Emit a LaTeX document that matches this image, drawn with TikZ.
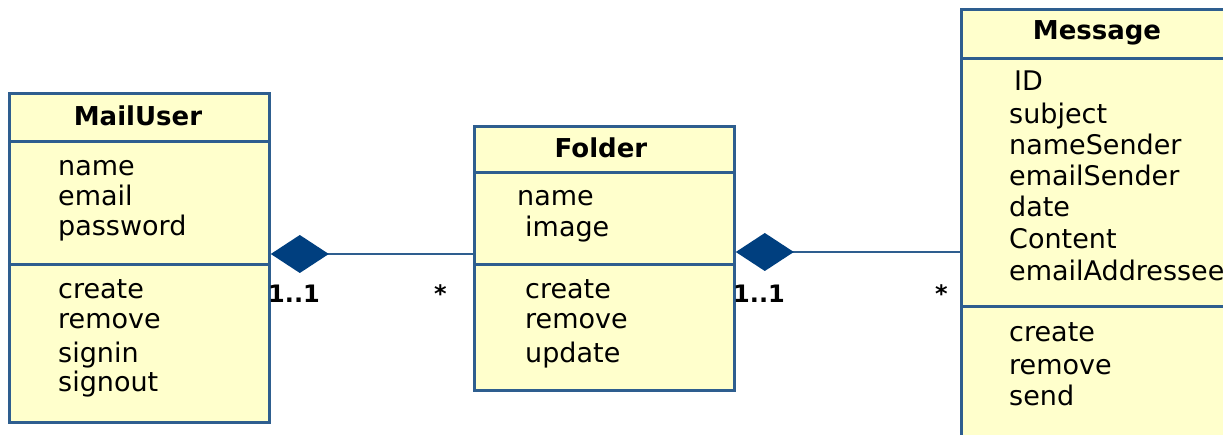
\documentclass[tikz,border=0pt]{standalone}
\usepackage{fontspec}
\setmainfont{DejaVu Sans}
\usetikzlibrary{arrows.meta}
\definecolor{classfill}{RGB}{255,255,204}
\definecolor{classline}{RGB}{46,94,143}
\definecolor{compblue}{RGB}{0,63,127}
\tikzset{
  part/.style={rectangle,draw=classline,fill=classfill,line width=2.8pt,anchor=north west,inner sep=0pt},
  title/.style={font=\fontsize{26}{30}\selectfont\bfseries},
  member/.style={anchor=west,inner sep=0pt,yshift=-6pt,text height=0.75em,text depth=0.25em,font=\fontsize{27}{30}\selectfont},
  mult/.style={anchor=west,inner sep=0pt,font=\fontsize{24}{28}\selectfont\bfseries},
  compose/.style={draw=classline,line width=2.5pt,-{Diamond[length=58pt,width=38pt,color=compblue]}}
}
\begin{document}
\begin{tikzpicture}[x=1pt,y=-1pt]
\useasboundingbox (0,0) rectangle (1223,435);
\clip (0,0) rectangle (1223,435);
%MailUser
\node[part,minimum width=260pt,minimum height=48pt](mu-head)at(8,92){};
\node[part,minimum width=260pt,minimum height=123pt](mu-attr)at(8,140){};
\node[part,minimum width=260pt,minimum height=158pt](mu-meth)at(8,263){};
\node[title](mu-name)at(138,116){MailUser};
\foreach \t/\y [count=\i] in {name/167,email/197,password/227,create/290,remove/320,signin/354,signout/383}{
\node[member](mu-\i)at(58,\y){\t};
}
%Folder
\node[part,minimum width=260pt,minimum height=46pt](fo-head)at(473,125){};
\node[part,minimum width=260pt,minimum height=92pt](fo-attr)at(473,171){};
\node[part,minimum width=260pt,minimum height=126pt](fo-meth)at(473,263){};
\node[title](fo-name)at(601,148){Folder};
\node[member](fo-1)at(517,197){name};
\foreach \t/\y [count=\i from 2] in {image/228,create/290,remove/320,update/354}{
\node[member](fo-\i)at(525,\y){\t};
}
%Message
\node[part,minimum width=280pt,minimum height=49pt](me-head)at(960,8){};
\node[part,minimum width=280pt,minimum height=248pt](me-attr)at(960,57){};
\node[part,minimum width=280pt,minimum height=160pt](me-meth)at(960,305){};
\node[title](me-name)at(1097,33){Message};
\node[member](me-1)at(1014,82){ID};
\foreach \t/\y [count=\i from 2] in {subject/115,nameSender/146,emailSender/177,date/208,Content/240,emailAddressee/272,create/333,remove/366,send/397}{
\node[member](me-\i)at(1009,\y){\t};
}
%links
\draw[compose](fo-attr.west |- 0,254)--(mu-attr.east |- 0,254);
\draw[compose](me-attr.west |- 0,252)--(fo-attr.east |- 0,252);
%multiplicities
\node[mult](mu-mult)at(268,294){1..1};
\node[mult](fo-mult)at(434,294){*};
\node[mult](fo-mult2)at(733,294){1..1};
\node[mult](me-mult)at(935,294){*};
\end{tikzpicture}
\end{document}
